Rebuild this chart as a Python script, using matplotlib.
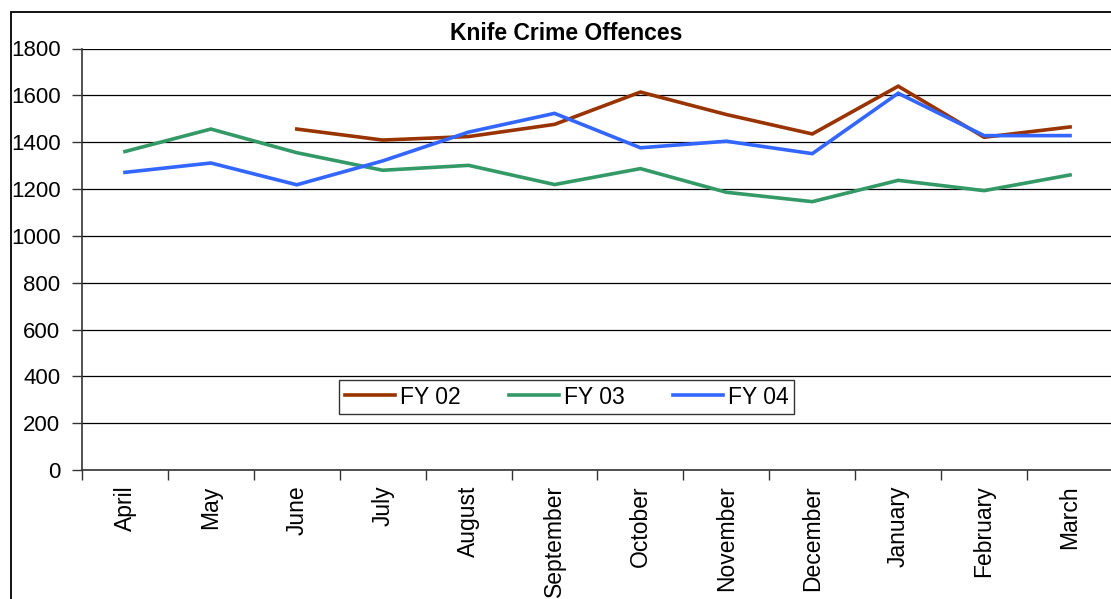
import numpy as np
import matplotlib
matplotlib.use("Agg")
import matplotlib.pyplot as plt
from matplotlib.patches import Rectangle

months = ["April", "May", "June", "July", "August", "September", "October",
          "November", "December", "January", "February", "March"]
fy02 = [np.nan, np.nan, 1456, 1409, 1424, 1476, 1614, 1518, 1435, 1639, 1421, 1465]
fy03 = [1360, 1456, 1355, 1280, 1301, 1219, 1287, 1186, 1146, 1237, 1193, 1260]
fy04 = [1271, 1311, 1218, 1320, 1443, 1523, 1376, 1404, 1351, 1609, 1428, 1428]
series_names = ["FY 02", "FY 03", "FY 04"]
colors = ["#993300", "#339966", "#3366FF"]
yticks = list(range(0, 1801, 200))

plt.rcParams['font.family'] = ['Liberation Sans', 'DejaVu Sans']

W, H = 1111, 599
fig = plt.figure(figsize=(W / 100, H / 100), dpi=100)
ax = fig.add_axes([82 / W, 1 - 470 / H, (1113 - 82) / W, (470 - 48.5) / H])

x = np.arange(len(months))
lines = []
for vals, name, c in zip([fy02, fy03, fy04], series_names, colors):
    l, = ax.plot(x, vals, color=c, lw=2.6, label=name, solid_joinstyle='miter')
    lines.append(l)

ax.set_xlim(-0.5, len(months) - 0.5)
ax.set_ylim(0, 1800)
ax.set_yticks(yticks)
ax.yaxis.grid(True, color='black', lw=0.9)
ax.set_axisbelow(True)

ax.set_xticks(np.arange(-0.5, len(months), 1.0))
ax.set_xticklabels([])
ax.set_xticks(x, minor=True)
ax.set_xticklabels(months, minor=True, rotation=90, fontsize=16.5, va='top', ha='center')
ax.tick_params(axis='x', which='major', length=7, width=1, color='#333333', direction='out')
ax.tick_params(axis='x', which='minor', length=0, pad=11)
ax.tick_params(axis='y', length=7, width=1, color='#333333', direction='out', labelsize=16, pad=8.5)

for s in ['top', 'right']:
    ax.spines[s].set_visible(False)
for s in ['left', 'bottom']:
    ax.spines[s].set_color('#333333')
    ax.spines[s].set_linewidth(1.2)

fig.text(566 / W, 1 - 33 / H, "Knife Crime Offences", ha='center', va='center',
         fontsize=16.5, fontweight='bold')

leg = fig.legend(handles=lines, loc='center', ncol=3,
                 bbox_to_anchor=(566.5 / W, 1 - 397 / H), fontsize=16.5,
                 frameon=True, fancybox=False, shadow=False,
                 handlelength=2.2, handletextpad=0.2, columnspacing=2.1,
                 borderpad=0.25, borderaxespad=0)
leg.get_frame().set_edgecolor('black')
leg.get_frame().set_linewidth(1.0)

fig.patches.append(Rectangle((11 / W, -1), 2, 2 - 12 / H, transform=fig.transFigure,
                             fill=False, ec='black', lw=1.3))

fig.savefig("out.png", dpi=100)
